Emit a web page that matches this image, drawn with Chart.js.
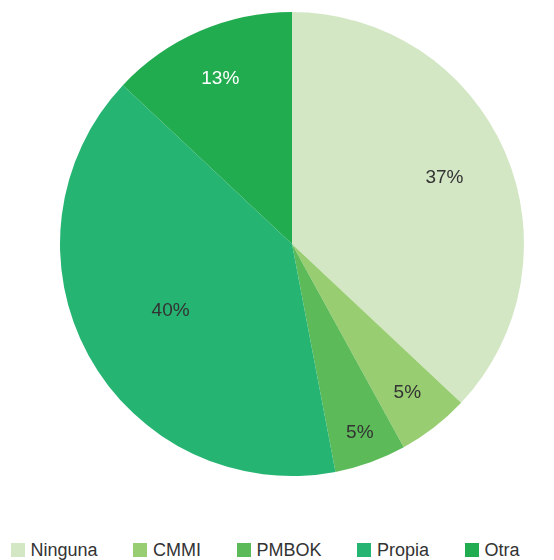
<!DOCTYPE html>
<html>
<head>
<meta charset="utf-8">
<title>Metodología utilizada</title>
<script src="https://cdn.jsdelivr.net/npm/chart.js@4/dist/chart.umd.min.js"></script>
<style>
  html, body { margin: 0; padding: 0; background: #fff; overflow: hidden; }
  body { width: 554px; height: 560px; position: relative; font-family: "Liberation Sans", Arial, sans-serif; }
  #wrap { position: absolute; left: 0; top: 0; width: 554px; height: 476px; }
  #legend { position: absolute; left: 10.5px; top: 540px; height: 20px; display: flex; align-items: center; white-space: nowrap; }
  .item { display: flex; align-items: center; margin-right: 35.5px; }
  .box { width: 14px; height: 14px; margin-right: 6px; }
  .text { font-size: 18px; line-height: 20px; color: #333; }
</style>
</head>
<body>
<div id="wrap"><canvas id="pieChart" width="554" height="476"></canvas></div>
<div id="legend"></div>

<script>
// Chart data
const categories = ['Ninguna', 'CMMI', 'PMBOK', 'Propia', 'Otra'];
const shares = [37, 5, 5, 40, 13];
const sliceColors = ['#d4e7c5', '#98cd72', '#5cba58', '#26b473', '#22ac50'];
const labelColors = ['#333333', '#333333', '#333333', '#333333', '#ffffff'];

// How far out (fraction of radius) each percentage label sits
const labelRadius = [0.716, 0.811, 0.863, 0.597, 0.778];

// Draw the percentage text on each slice
const sliceLabels = {
    id: 'sliceLabels',
    afterDatasetsDraw(chart) {
        const ctx = chart.ctx;
        const meta = chart.getDatasetMeta(0);
        ctx.save();
        ctx.font = '19px "Liberation Sans", Arial, sans-serif';
        ctx.textAlign = 'center';
        ctx.textBaseline = 'middle';
        meta.data.forEach((arc, i) => {
            const p = arc.getProps(['x', 'y', 'startAngle', 'endAngle', 'outerRadius'], true);
            const mid = (p.startAngle + p.endAngle) / 2;
            const r = p.outerRadius * labelRadius[i];
            ctx.fillStyle = labelColors[i];
            ctx.fillText(shares[i] + '%', p.x + Math.cos(mid) * r, p.y + Math.sin(mid) * r);
        });
        ctx.restore();
    }
};

const ctx = document.getElementById('pieChart').getContext('2d');
new Chart(ctx, {
    type: 'pie',
    data: {
        labels: categories,
        datasets: [{
            data: shares,
            backgroundColor: sliceColors,
            borderWidth: 0
        }]
    },
    options: {
        responsive: false,
        animation: false,
        layout: {
            padding: { top: 12, left: 30, right: 0, bottom: 0 }
        },
        plugins: {
            legend: { display: false },
            tooltip: { enabled: false }
        }
    },
    plugins: [sliceLabels]
});

// Legend row under the chart
const legendEl = document.getElementById('legend');
categories.forEach((name, i) => {
    const item = document.createElement('div');
    item.className = 'item';
    const box = document.createElement('span');
    box.className = 'box';
    box.style.background = sliceColors[i];
    const text = document.createElement('span');
    text.className = 'text';
    text.textContent = name;
    item.appendChild(box);
    item.appendChild(text);
    legendEl.appendChild(item);
});
</script>
</body>
</html>
